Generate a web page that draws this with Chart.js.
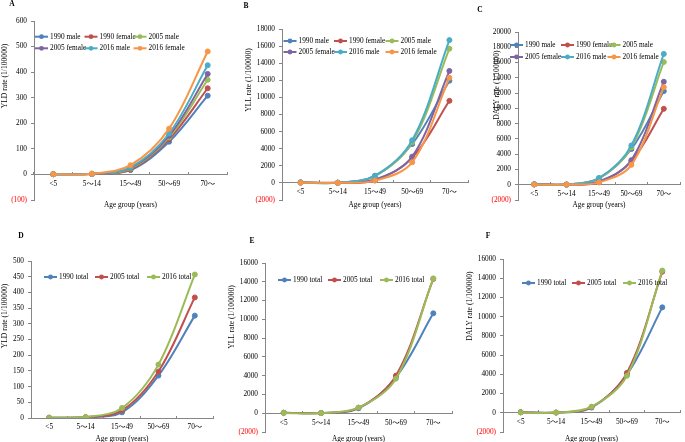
<!DOCTYPE html>
<html>
<head>
<meta charset="utf-8">
<script src="https://cdn.jsdelivr.net/npm/chart.js@4.4.1/dist/chart.umd.min.js"></script>
<style>
html, body { margin: 0; padding: 0; background: #fff; overflow: hidden; }
#wrap { position: relative; width: 685px; height: 442px; }
#wrap canvas { position: absolute; left: 0; top: 0; }
</style>
</head>
<body>
<div id="wrap">
  <canvas id="panelA" width="685" height="442"></canvas>
  <canvas id="panelB" width="685" height="442"></canvas>
  <canvas id="panelC" width="685" height="442"></canvas>
  <canvas id="panelD" width="685" height="442"></canvas>
  <canvas id="panelE" width="685" height="442"></canvas>
  <canvas id="panelF" width="685" height="442"></canvas>
</div>
<script>
const ageGroups = ['<5', '5～14', '15～49', '50～69', '70～'];
const sexLabels = ['1990 male', '1990 female', '2005 male', '2005 female', '2016 male', '2016 female'];
const totalLabels = ['1990 total', '2005 total', '2016 total'];
const sexColors = ['#4F81BD', '#C0504D', '#9BBB59', '#8064A2', '#4BACC6', '#F79646'];
const totalColors = ['#4F81BD', '#C0504D', '#9BBB59'];

// A - YLD rate by sex
const yldMale1990   = [0.8, 2.2, 17, 128, 308];
const yldFemale1990 = [0.7, 2.0, 19, 138, 337];
const yldMale2005   = [0.9, 2.5, 23, 145, 370];
const yldFemale2005 = [0.8, 2.4, 26, 151, 393];
const yldMale2016   = [1.0, 3.0, 28, 160, 427];
const yldFemale2016 = [0.9, 2.8, 36, 179, 481];

// B - YLL rate by sex
const yllMale1990   = [60, 25, 820, 4550, 11950];
const yllFemale1990 = [50, 20, 300, 2950, 9600];
const yllMale2005   = [45, 20, 800, 4750, 15700];
const yllFemale2005 = [40, 18, 400, 3070, 13100];
const yllMale2016   = [35, 15, 850, 4990, 16700];
const yllFemale2016 = [30, 12, 270, 2420, 12300];

// C - DALY rate by sex
const dalyMale1990   = [60, 27, 840, 4680, 12260];
const dalyFemale1990 = [50, 22, 320, 3090, 9940];
const dalyMale2005   = [46, 22, 820, 4890, 16070];
const dalyFemale2005 = [41, 20, 430, 3220, 13490];
const dalyMale2016   = [36, 18, 880, 5150, 17130];
const dalyFemale2016 = [31, 15, 310, 2600, 12780];

// D, E, F - totals
const yldTotal1990 = [1, 2.2, 18, 135, 326];
const yldTotal2005 = [1, 2.5, 24, 148, 384];
const yldTotal2016 = [1, 3.0, 32, 170, 457];
const yllTotal1990 = [55, 22, 520, 3830, 10640];
const yllTotal2005 = [45, 20, 580, 4000, 14300];
const yllTotal2016 = [35, 15, 600, 3680, 14360];
const dalyTotal1990 = [60, 24, 540, 3970, 10970];
const dalyTotal2005 = [50, 22, 600, 4150, 14680];
const dalyTotal2016 = [40, 18, 630, 3850, 14800];

const FONT = "'Liberation Serif', 'Times New Roman', 'Noto Sans CJK SC', serif";
const AXIS = '#868686';
Chart.defaults.font.family = FONT;
Chart.defaults.font.size = 7.3;
Chart.defaults.color = '#000';

// letter, rotated y title and the excel-like legend (fixed columns)
const excelBits = {
    id: 'excelBits',
    afterDraw(chart, args, o) {
        const ctx = chart.ctx;
        ctx.save();
        ctx.fillStyle = '#000';
        ctx.textBaseline = 'middle';
        ctx.textAlign = 'center';
        ctx.font = 'bold 7.5px ' + FONT;
        ctx.fillText(o.letter, o.letterX, o.letterY);

        ctx.font = '7.6px ' + FONT;
        ctx.save();
        ctx.translate(o.yTitleX, o.yTitleY);
        ctx.rotate(-Math.PI / 2);
        ctx.fillText(o.yTitle, 0, 0);
        ctx.restore();

        ctx.font = '7.3px ' + FONT;
        ctx.textAlign = 'left';
        const ncol = o.cols.length;
        chart.data.datasets.forEach(function(ds, i) {
            const x = o.cols[i % ncol];
            const y = o.rows[Math.floor(i / ncol)];
            ctx.strokeStyle = ds.borderColor;
            ctx.lineWidth = 2;
            ctx.beginPath();
            ctx.moveTo(x, y);
            ctx.lineTo(x + 13, y);
            ctx.stroke();
            ctx.fillStyle = ds.borderColor;
            ctx.beginPath();
            ctx.arc(x + 6.5, y, 2.4, 0, Math.PI * 2);
            ctx.fill();
            ctx.fillStyle = '#000';
            ctx.fillText(ds.label, x + 15, y);
        });
        ctx.restore();
    }
};

function makePanel(id, p) {
    const y0 = p.top + p.yMax / (p.yMax - p.yMin) * (p.bottom - p.top);
    const datasets = p.labels.map(function(label, i) {
        return {
            label: label,
            data: p.series[i],
            borderColor: p.colors[i],
            backgroundColor: p.colors[i],
            pointBackgroundColor: p.colors[i],
            pointBorderColor: p.colors[i],
            borderWidth: 2,
            pointRadius: 2.5,
            pointBorderWidth: 1,
            tension: 0.35,
            fill: false,
            order: -i
        };
    });
    new Chart(document.getElementById(id), {
        type: 'line',
        data: { labels: ageGroups, datasets: datasets },
        options: {
            responsive: false,
            animation: false,
            events: [],
            layout: { padding: { left: p.left - 30, top: p.top, right: 685 - p.right, bottom: 442 - p.bottom } },
            scales: {
                x: {
                    position: { y: 0 },
                    offset: true,
                    afterFit: function(s) { s.height = 0; },
                    grid: { drawOnChartArea: false, drawTicks: true, tickLength: -3, color: AXIS, offset: true },
                    border: { display: true, color: AXIS, width: 1 },
                    ticks: { autoSkip: false, maxRotation: 0, padding: 8, color: '#000' },
                    title: { display: true, text: 'Age group (years)', color: '#000',
                             padding: { top: 0, bottom: y0 - 4.38 - p.xTitleY } }
                },
                y: {
                    min: p.yMin,
                    max: p.yMax,
                    afterFit: function(s) { s.width = 30; },
                    grid: { drawOnChartArea: false, drawTicks: true, tickLength: 3, color: AXIS },
                    border: { display: true, color: AXIS, width: 1 },
                    ticks: {
                        stepSize: p.step,
                        padding: 4,
                        color: function(c) { return c.tick.value < 0 ? '#FF0000' : '#000'; },
                        callback: function(v) { return v < 0 ? '(' + (-v) + ')' : v; }
                    }
                }
            },
            plugins: {
                legend: { display: false },
                tooltip: { enabled: false },
                excelBits: p.bits
            }
        },
        plugins: [excelBits]
    });
}

makePanel('panelA', {
    left: 34, right: 227, top: 21, bottom: 200, yMin: -100, yMax: 600, step: 100, xTitleY: 205,
    labels: sexLabels, colors: sexColors,
    series: [yldMale1990, yldFemale1990, yldMale2005, yldFemale2005, yldMale2016, yldFemale2016],
    bits: { letter: 'A', letterX: 12, letterY: 4, yTitle: 'YLD rate (1/100000)', yTitleX: 5, yTitleY: 76,
            cols: [35, 84.5, 133.5], rows: [36.7, 48.3] }
});
makePanel('panelB', {
    left: 282, right: 468, top: 29, bottom: 200, yMin: -2000, yMax: 18000, step: 2000, xTitleY: 205,
    labels: sexLabels, colors: sexColors,
    series: [yllMale1990, yllFemale1990, yllMale2005, yllFemale2005, yllMale2016, yllFemale2016],
    bits: { letter: 'B', letterX: 246, letterY: 6, yTitle: 'YLL rate (1/100000)', yTitleX: 249, yTitleY: 80,
            cols: [283.5, 334, 385.5], rows: [41, 52] }
});
makePanel('panelC', {
    left: 518, right: 685, top: 32, bottom: 200, yMin: -2000, yMax: 20000, step: 2000, xTitleY: 205,
    labels: sexLabels, colors: sexColors,
    series: [dalyMale1990, dalyFemale1990, dalyMale2005, dalyFemale2005, dalyMale2016, dalyFemale2016],
    bits: { letter: 'C', letterX: 480, letterY: 10, yTitle: 'DALY rate (1/100000)', yTitleX: 497, yTitleY: 85,
            cols: [510, 561, 607.5], rows: [45, 57] }
});
makePanel('panelD', {
    left: 31, right: 213, top: 261, bottom: 418, yMin: 0, yMax: 500, step: 50, xTitleY: 439,
    labels: totalLabels, colors: totalColors,
    series: [yldTotal1990, yldTotal2005, yldTotal2016],
    bits: { letter: 'D', letterX: 21, letterY: 236, yTitle: 'YLD rate (1/100000)', yTitleX: 5, yTitleY: 316,
            cols: [44, 95, 147], rows: [277] }
});
makePanel('panelE', {
    left: 265, right: 452, top: 263, bottom: 432, yMin: -2000, yMax: 16000, step: 2000, xTitleY: 439,
    labels: totalLabels, colors: totalColors,
    series: [yllTotal1990, yllTotal2005, yllTotal2016],
    bits: { letter: 'E', letterX: 252, letterY: 241, yTitle: 'YLL rate (1/100000)', yTitleX: 232, yTitleY: 317,
            cols: [278, 328, 380], rows: [280] }
});
makePanel('panelF', {
    left: 503, right: 685, top: 259, bottom: 432, yMin: -2000, yMax: 16000, step: 2000, xTitleY: 439,
    labels: totalLabels, colors: totalColors,
    series: [dalyTotal1990, dalyTotal2005, dalyTotal2016],
    bits: { letter: 'F', letterX: 488, letterY: 236, yTitle: 'DALY rate (1/100000)', yTitleX: 470, yTitleY: 306,
            cols: [522, 572, 623], rows: [283] }
});
</script>
</body>
</html>
